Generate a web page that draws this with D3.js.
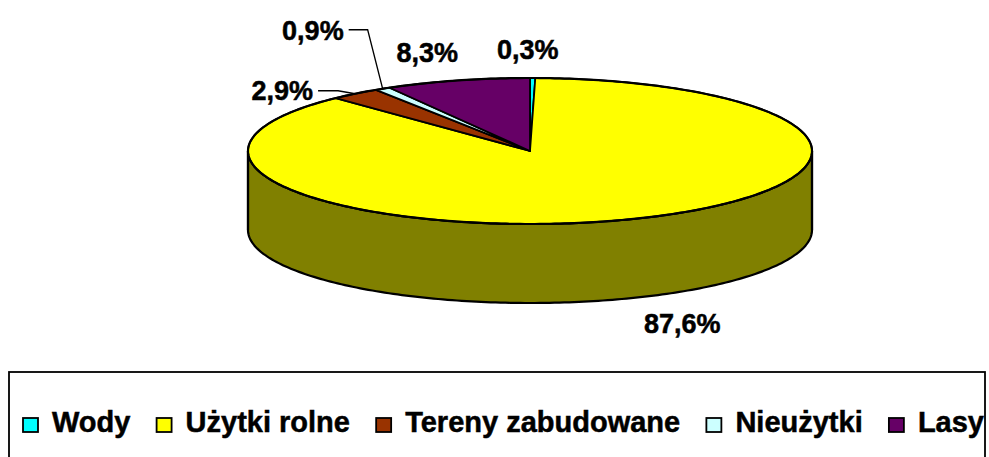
<!DOCTYPE html>
<html>
<head>
<meta charset="utf-8">
<script src="https://cdn.jsdelivr.net/npm/d3@7"></script>
<style>
  html, body { margin: 0; padding: 0; background: #ffffff; }
  svg { display: block; }
  text { font-family: "Liberation Sans", Arial, sans-serif; font-weight: bold; fill: #000; stroke: #000; stroke-width: 0.5px; }
</style>
</head>
<body>
<svg id="chart" width="989" height="457"></svg>
<script>
// ---- data ----
const categories = ["Wody", "Użytki rolne", "Tereny zabudowane", "Nieużytki", "Lasy"];
const values = [0.3, 87.6, 2.9, 0.9, 8.3];
const valueLabels = ["0,3%", "87,6%", "2,9%", "0,9%", "8,3%"];
const topColors = ["#00FFFF", "#FFFF00", "#993300", "#CCFFFF", "#660066"];
const sideColors = ["#008080", "#808000", "#4D1A00", "#668080", "#330033"];

// ---- layout ----
const W = 989, H = 457;
const cx = 530, cy = 151, rx = 282, ry = 73, depth = 79;
// label placement relative to the slice mid-point on the rim (dx, dy to text anchor/baseline)
const labelLayout = [
  { dx: -5, dy: -19, anchor: "middle" },
  { dx: 50, dy: 114, anchor: "middle" },
  { dx: -42, dy: 6, anchor: "end", knee: [-17, -3] },
  { dx: -39, dy: -49, anchor: "end", knee: [-15, -59] },
  { dx: -30, dy: -18, anchor: "middle" }
];

const svg = d3.select("#chart");
const xs = d3.scaleLinear().domain([-1, 1]).range([cx - rx, cx + rx]);
const ys = d3.scaleLinear().domain([-1, 1]).range([cy - ry, cy + ry]);
const pt = (a, off = 0) => [xs(Math.sin(a)), ys(-Math.cos(a)) + off];
const line = d3.line();

const pie = d3.pie().sort(null).value(d => d).startAngle(0).endAngle(2 * Math.PI);
const arcs = pie(values);

function arcPoints(a0, a1, off = 0) {
  const n = Math.max(2, Math.ceil(Math.abs(a1 - a0) / (Math.PI / 180)));
  const pts = [];
  for (let i = 0; i <= n; i++) pts.push(pt(a0 + (a1 - a0) * i / n, off));
  return pts;
}

// ---- side (front half visible: angles PI/2 .. 3PI/2) ----
const gSide = svg.append("g");
arcs.forEach((a, i) => {
  const s = Math.max(a.startAngle, Math.PI / 2);
  const e = Math.min(a.endAngle, 3 * Math.PI / 2);
  if (e <= s) return;
  const top = arcPoints(s, e);
  const bot = arcPoints(e, s, depth);
  gSide.append("path")
    .attr("d", line(top.concat(bot)) + "Z")
    .attr("fill", sideColors[i])
    .attr("stroke", "#000")
    .attr("stroke-width", 2.2)
    .attr("stroke-linejoin", "round");
});
[Math.PI / 2, 3 * Math.PI / 2].forEach(a => {
  gSide.append("path")
    .attr("d", line([pt(a), pt(a, depth)]))
    .attr("stroke", "#000").attr("stroke-width", 2.2);
});

// ---- top face ----
const gTop = svg.append("g");
arcs.forEach((a, i) => {
  const pts = [[cx, cy]].concat(arcPoints(a.startAngle, a.endAngle));
  gTop.append("path")
    .attr("d", line(pts) + "Z")
    .attr("fill", topColors[i])
    .attr("stroke", "#000")
    .attr("stroke-width", 1.8)
    .attr("stroke-linejoin", "round");
});
gTop.append("path")
  .attr("d", line(arcPoints(0, 2 * Math.PI)) + "Z")
  .attr("fill", "none").attr("stroke", "#000").attr("stroke-width", 2.2);

// ---- labels ----
const gLab = svg.append("g");
arcs.forEach((a, i) => {
  const mid = (a.startAngle + a.endAngle) / 2;
  const p = pt(mid);
  const L = labelLayout[i];
  const tx = p[0] + L.dx, ty = p[1] + L.dy;
  gLab.append("text")
    .attr("x", tx).attr("y", ty)
    .attr("text-anchor", L.anchor)
    .attr("font-size", 27)
    .text(valueLabels[i]);
  if (L.knee) {
    const knee = [p[0] + L.knee[0], p[1] + L.knee[1]];
    gLab.append("path")
      .attr("d", line([[tx + 5, knee[1]], knee, p]))
      .attr("fill", "none").attr("stroke", "#000").attr("stroke-width", 1.3);
  }
});

// ---- legend ----
const legX0 = 9, legY0 = 372, legX1 = 985;
svg.append("rect")
  .attr("x", legX0).attr("y", legY0)
  .attr("width", legX1 - legX0).attr("height", 100)
  .attr("fill", "#fff").attr("stroke", "#000").attr("stroke-width", 1.8);

const gLeg = svg.append("g");
const fs = 29, sw = 15, sh = 14, gapST = 14;
const items = categories.map((c, i) => {
  const g = gLeg.append("g");
  const t = g.append("text").attr("font-size", fs).attr("y", 432).text(c);
  return { g, t, w: t.node().getComputedTextLength(), i };
});
const startX = 23, endX = 984;
const totalW = d3.sum(items, d => d.w) + items.length * (sw + gapST);
const gap = (endX - startX - totalW) / (items.length - 1);
let x = startX;
items.forEach(d => {
  d.g.append("rect")
    .attr("x", x).attr("y", 418).attr("width", sw).attr("height", sh)
    .attr("fill", topColors[d.i]).attr("stroke", "#000").attr("stroke-width", 1.8);
  d.t.attr("x", x + sw + gapST);
  x += sw + gapST + d.w + gap;
});
</script>
</body>
</html>
